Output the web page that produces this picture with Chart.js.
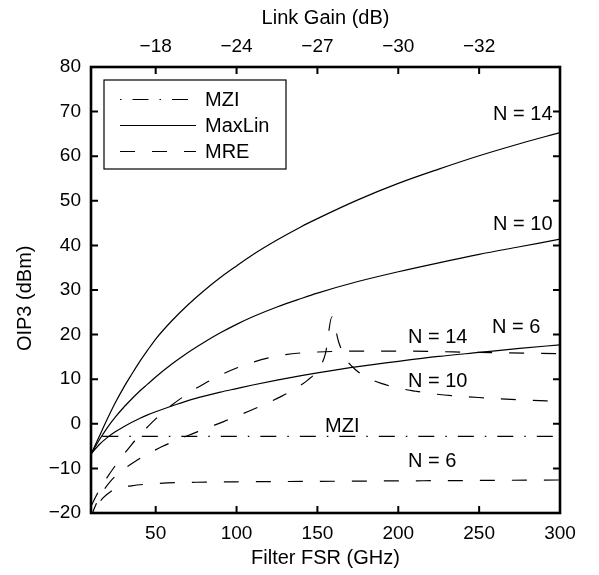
<!DOCTYPE html>
<html><head><meta charset="utf-8">
<script src="https://cdn.jsdelivr.net/npm/chart.js@4/dist/chart.umd.min.js"></script>
<style>html,body{margin:0;padding:0;background:#fff}</style>
</head><body>
<canvas id="c" width="599" height="575"></canvas>
<script>
const FONT = "'Liberation Sans', Arial, Helvetica, sans-serif";

// ---- tick definitions ----
const fsrTicks = [50, 100, 150, 200, 250, 300];
const gainTickFsr = [50, 100, 150, 200, 250];
const gainTickLabels = ['\u221218', '\u221224', '\u221227', '\u221230', '\u221232'];
const legendNames = ['MZI', 'MaxLin', 'MRE'];

// ---- MZI ----
const mziFsr = [17, 50, 100, 150, 200, 250, 300];
const mziOip = [-2.8, -2.8, -2.8, -2.8, -2.8, -2.8, -2.8];

// ---- MaxLin (solid) ----
const maxlinFsr = [10, 15, 20, 25, 30, 35, 40, 45, 50, 60, 70, 80, 90, 100, 110, 125, 140, 150, 175, 200, 225, 250, 275, 300];
const maxlinN14 = [-6.8, -2.9, 1.0, 4.7, 8.0, 11.0, 13.9, 16.5, 19.0, 23.1, 26.7, 29.9, 32.8, 35.4, 37.9, 41.2, 44.2, 46.0, 50.2, 53.9, 57.1, 60.1, 62.8, 65.3];
const maxlinN10 = [-6.8, -3.7, -0.9, 1.5, 3.6, 5.5, 7.3, 8.9, 10.5, 13.4, 16.0, 18.3, 20.4, 22.3, 24.0, 26.2, 28.1, 29.3, 31.9, 34.1, 36.1, 38.0, 39.7, 41.4];
const maxlinN6  = [-6.8, -4.7, -3.1, -1.8, -0.7, 0.3, 1.2, 2.0, 2.7, 4.0, 5.2, 6.2, 7.1, 7.9, 8.7, 9.8, 10.8, 11.4, 12.8, 14.0, 15.1, 16.0, 16.9, 17.7];

// ---- MRE (dashed) ----
const mreN14Fsr = [10, 13, 16, 20, 25, 30, 35, 40, 45, 50, 55, 60, 70, 80, 90, 100, 110, 120, 130, 140, 150, 175, 200, 250, 300];
const mreN14Oip = [-18.5, -16.3, -14.3, -12.0, -9.4, -7.0, -4.7, -2.6, -0.7, 1.1, 2.7, 4.2, 6.8, 9.0, 10.9, 12.5, 13.8, 14.8, 15.5, 15.9, 16.1, 16.3, 16.3, 16.0, 15.7];

const mreN10Fsr = [10, 12, 15, 18, 22, 28, 37, 45, 54, 64, 73, 82, 92, 100, 110, 118, 128, 136, 144, 150, 155, 159, 163, 167, 174, 181, 190, 200, 211, 220, 233, 254, 274, 300];
const mreN10Oip = [-21, -19.0, -16.6, -14.8, -12.9, -10.8, -8.5, -6.8, -5.1, -3.5, -2.2, -0.9, 0.5, 1.7, 3.2, 4.5, 6.2, 7.8, 9.8, 12.0, 15.8, 24.0, 18.5, 14.9, 12.0, 10.3, 9.0, 8.0, 7.3, 6.8, 6.3, 5.8, 5.4, 5.0];

const mreN6Fsr = [10, 11, 12.3, 14, 17, 20, 25, 35, 50, 75, 100, 150, 200, 250, 300];
const mreN6Oip = [-24, -22, -19.8, -18.3, -16.8, -15.8, -14.6, -13.9, -13.4, -13.1, -13.0, -12.9, -12.8, -12.7, -12.6];

// ---- curve annotations (text and anchor in data units) ----
const noteTexts = ['N = 14', 'N = 10', 'N = 6', 'N = 14', 'N = 10', 'MZI', 'N = 6'];
const noteFsr   = [258.6, 258.6, 258.0, 206.0, 206.0, 154.7, 206.0];
const noteOip   = [68.1, 43.4, 20.4, 18.1, 8.3, -1.8, -9.7];

const DASH_MZI = [16, 11, 1.5, 11];
const DASH_MRE = [15, 17];
const LW = 1.2;

function pts(xs, ys) { return xs.map((x, i) => ({x: x, y: ys[i]})); }
function ds(label, xs, ys, dash) {
  return {label: label, data: pts(xs, ys), borderColor: '#000', borderWidth: LW,
          borderDash: dash, pointRadius: 0, fill: false, cubicInterpolationMode: 'monotone'};
}

const framePlugin = {
  id: 'frame',
  afterDatasetsDraw(chart) {
    const {ctx, chartArea: a, scales} = chart;
    ctx.save();
    ctx.setLineDash([]);
    ctx.strokeStyle = '#000';
    ctx.lineWidth = 2;
    const tl = 7;
    ctx.beginPath();
    scales.x.ticks.forEach(t => { const p = scales.x.getPixelForValue(t.value); ctx.moveTo(p, a.bottom); ctx.lineTo(p, a.bottom - tl); });
    scales.x2.ticks.forEach(t => { const p = scales.x2.getPixelForValue(t.value); ctx.moveTo(p, a.top); ctx.lineTo(p, a.top + tl); });
    scales.y.ticks.forEach(t => { const p = scales.y.getPixelForValue(t.value);
      ctx.moveTo(a.left, p); ctx.lineTo(a.left + tl, p); ctx.moveTo(a.right, p); ctx.lineTo(a.right - tl, p); });
    ctx.stroke();
    ctx.lineWidth = 2.6;
    ctx.strokeRect(a.left, a.top, a.right - a.left, a.bottom - a.top);

    // annotations
    ctx.fillStyle = '#000';
    ctx.font = '20px ' + FONT;
    ctx.textAlign = 'left';
    ctx.textBaseline = 'alphabetic';
    noteTexts.forEach((t, i) => {
      ctx.fillText(t, scales.x.getPixelForValue(noteFsr[i]), scales.y.getPixelForValue(noteOip[i]));
    });

    // legend box
    const bx = a.left + 13, by = a.top + 13, bw = 182, bh = 89;
    ctx.fillStyle = '#fff';
    ctx.fillRect(bx, by, bw, bh);
    ctx.lineWidth = 1.2;
    ctx.strokeRect(bx, by, bw, bh);
    const dashes = [DASH_MZI, [], DASH_MRE];
    const offs = [27, 0, 0];
    legendNames.forEach((n, i) => {
      const yy = by + 19.5 + i * 26;
      ctx.setLineDash(dashes[i]);
      ctx.lineDashOffset = offs[i];
      ctx.lineWidth = LW;
      ctx.beginPath();
      ctx.moveTo(bx + 16, yy);
      ctx.lineTo(bx + 92, yy);
      ctx.stroke();
      ctx.setLineDash([]);
      ctx.fillStyle = '#000';
      ctx.textBaseline = 'middle';
      ctx.fillText(n, bx + 101, yy + 1);
    });
    ctx.restore();
  }
};

const tickFont = {family: FONT, size: 19};
const titleFont = {family: FONT, size: 20};

new Chart(document.getElementById('c'), {
  type: 'line',
  data: {datasets: [
    ds('MZI', mziFsr, mziOip, DASH_MZI),
    ds('MaxLin N = 14', maxlinFsr, maxlinN14, []),
    ds('MaxLin N = 10', maxlinFsr, maxlinN10, []),
    ds('MaxLin N = 6', maxlinFsr, maxlinN6, []),
    ds('MRE N = 14', mreN14Fsr, mreN14Oip, DASH_MRE),
    ds('MRE N = 10', mreN10Fsr, mreN10Oip, DASH_MRE),
    ds('MRE N = 6', mreN6Fsr, mreN6Oip, DASH_MRE)
  ]},
  options: {
    responsive: false, animation: false, devicePixelRatio: 1,
    layout: {padding: {left: 0, right: 39, top: 0, bottom: 0}},
    plugins: {legend: {display: false}, tooltip: {enabled: false}},
    scales: {
      x: {
        type: 'linear', position: 'bottom', min: 10, max: 300,
        afterBuildTicks: s => { s.ticks = fsrTicks.map(v => ({value: v})); },
        afterFit: s => { s.height = 62; },
        grid: {display: false, drawTicks: false}, border: {display: false},
        ticks: {padding: 9, color: '#000', font: tickFont, maxRotation: 0, autoSkip: false},
        title: {display: true, text: 'Filter FSR (GHz)', color: '#000', font: titleFont, padding: {top: 0, bottom: 5}}
      },
      x2: {
        type: 'linear', position: 'top', min: 10, max: 300,
        afterBuildTicks: s => { s.ticks = gainTickFsr.map(v => ({value: v})); },
        afterFit: s => { s.height = 67; },
        grid: {display: false, drawTicks: false}, border: {display: false},
        ticks: {padding: 9, color: '#000', font: tickFont, maxRotation: 0, autoSkip: false,
                callback: v => gainTickLabels[gainTickFsr.indexOf(v)]},
        title: {display: true, text: 'Link Gain (dB)', color: '#000', font: titleFont, padding: {top: 6, bottom: 0}}
      },
      y: {
        type: 'linear', position: 'left', min: -20, max: 80,
        afterFit: s => { s.width = 91; },
        grid: {display: false, drawTicks: false}, border: {display: false},
        ticks: {stepSize: 10, padding: 10, color: '#000', font: tickFont,
                callback: v => String(v).replace('-', '\u2212')},
        title: {display: true, text: 'OIP3 (dBm)   ', color: '#000', font: titleFont, padding: {top: 13, bottom: 0}}
      }
    }
  },
  plugins: [framePlugin]
});
</script>
</body></html>
